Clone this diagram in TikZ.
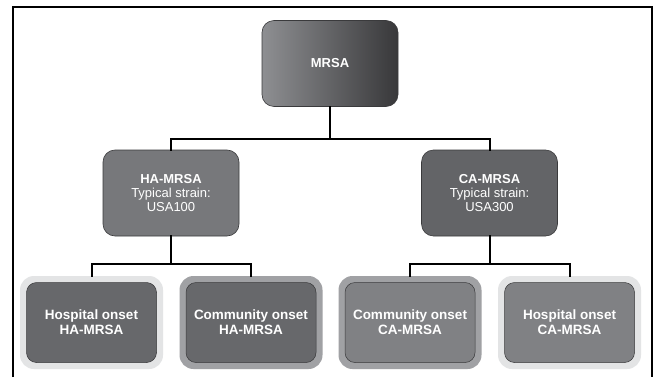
\documentclass[tikz,border=0pt]{standalone}
\usepackage{fontspec}
\setmainfont{Liberation Sans}
\definecolor{gradL}{HTML}{8E8F92}
\definecolor{gradR}{HTML}{38383A}
\definecolor{haFill}{HTML}{77787B}
\definecolor{caFill}{HTML}{636467}
\definecolor{darkIn}{HTML}{67686B}
\definecolor{lightIn}{HTML}{808184}
\definecolor{haloLight}{HTML}{E3E4E5}
\definecolor{haloDark}{HTML}{A0A1A4}
\definecolor{edge}{HTML}{3A3A3C}
\begin{document}
\begin{tikzpicture}[x=1pt,y=-1pt,
  topbox/.style={draw=edge,line width=0.6pt,rounded corners=12pt,minimum width=136pt,minimum height=86pt,
    inner sep=0pt,text=white,align=center,font=\fontsize{13}{14.4}\selectfont},
  halo/.style={rounded corners=14pt,minimum width=143pt,minimum height=93pt,inner sep=0pt},
  inbox/.style={draw=edge,line width=0.5pt,rounded corners=10pt,minimum width=130pt,minimum height=80pt,
    inner sep=0pt,text=white,align=center,font=\fontsize{13.5}{15}\selectfont\bfseries},
  conn/.style={draw=black,line width=2pt,line cap=rect,line join=miter}]
\useasboundingbox (0,0) rectangle (655,377);
\fill[white] (0,0) rectangle (655,377);
% frame
\coordinate (fl) at (13,377);
\coordinate (fr) at (652,377);
\draw[line width=1.2pt] (fl) |- (652,7) -- (fr);
% top
\node[topbox,left color=gradL,right color=gradR] (mrsa) at (330,63.5) {\textbf{MRSA}};
\node[topbox,fill=haFill] (ha) at (171,193) {\textbf{HA-MRSA}\\Typical strain:\\USA100};
\node[topbox,fill=caFill] (ca) at (489.5,193) {\textbf{CA-MRSA}\\Typical strain:\\USA300};
% bottom halos
\node[halo,fill=haloLight] (h1) at (91.5,322.5) {};
\node[halo,fill=haloDark] (h2) at (251,322.5) {};
\node[halo,fill=haloDark] (h3) at (410,322.5) {};
\node[halo,fill=haloLight] (h4) at (569.5,322.5) {};
\node[inbox,fill=darkIn] (b1) at (h1) {Hospital onset\\HA-MRSA};
\node[inbox,fill=darkIn] (b2) at (h2) {Community onset\\HA-MRSA};
\node[inbox,fill=lightIn] (b3) at (h3) {Community onset\\CA-MRSA};
\node[inbox,fill=lightIn] (b4) at (h4) {Hospital onset\\CA-MRSA};
% connectors
\coordinate (j1) at (330,138.5);
\coordinate (j2) at (171,264);
\coordinate (j3) at (489.5,264);
\draw[conn] (mrsa.south) -- (j1);
\draw[conn] (ha.north) |- (j1) -| (ca.north);
\draw[conn] (ha.south) -- (j2);
\draw[conn] (h1.north) |- (j2) -| (h2.north);
\draw[conn] (ca.south) -- (j3);
\draw[conn] (h3.north) |- (j3) -| (h4.north);
\end{tikzpicture}
\end{document}
